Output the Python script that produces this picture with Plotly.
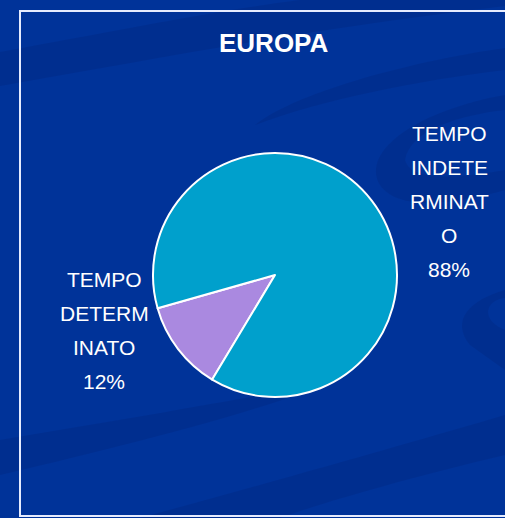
import plotly.graph_objects as go

W, H = 505, 518

labels = ["TEMPO DETERMINATO", "TEMPO INDETERMINATO"]
label_lines = [["TEMPO", "DETERM", "INATO"], ["TEMPO", "INDETE", "RMINAT", "O"]]
values = [12, 88]
colors = ["#AA89E0", "#00A0CC"]
title = "EUROPA"


def px(x, y):
    """ pixel position -> paper coords """
    return x / W, 1 - y / H


def path(points):
    """ pixel polyline/curves -> svg path in paper units """
    out = []
    for cmd, pts in points:
        coords = " ".join("%.4f,%.4f" % px(x, y) for x, y in pts)
        out.append(cmd + coords)
    return " ".join(out) + " Z"


fig = go.Figure(go.Pie(
    labels=labels,
    values=values,
    sort=False,
    direction="clockwise",
    rotation=211,
    marker=dict(colors=colors, line=dict(color="white", width=2)),
    textinfo="none",
    hoverinfo="label+percent",
    domain=dict(x=[153 / W, 397 / W], y=[1 - 397 / H, 1 - 153 / H]),
))

# background swooshes
dark = "rgba(0,30,110,0.22)"
swooshes = [
    [("M", [(0, 52)]), ("C", [(120, 30), (220, 10), (300, 0)]), ("L", [(505, 0)]),
     ("L", [(505, 6)]), ("C", [(300, 30), (150, 60), (0, 86)])],
    [("M", [(255, 125)]), ("C", [(300, 90), (420, 60), (505, 48)]), ("L", [(505, 70)]),
     ("C", [(420, 80), (320, 100), (255, 125)])],
    [("M", [(505, 95)]), ("C", [(420, 110), (360, 150), (380, 185)]),
     ("C", [(400, 215), (470, 200), (505, 190)]), ("L", [(505, 170)]),
     ("C", [(450, 180), (410, 180), (405, 160)]), ("C", [(410, 130), (460, 115), (505, 110)])],
    [("M", [(505, 290)]), ("C", [(470, 300), (450, 320), (470, 345)]),
     ("L", [(505, 370)]), ("L", [(505, 330)]), ("C", [(480, 320), (485, 300), (505, 298)])],
    [("M", [(0, 440)]), ("C", [(120, 420), (250, 398), (340, 380)]),
     ("C", [(260, 410), (150, 440), (0, 475)])],
    [("M", [(140, 518)]), ("C", [(280, 480), (420, 440), (505, 415)]), ("L", [(505, 455)]),
     ("C", [(420, 475), (330, 500), (280, 518)])],
]
shapes = [dict(type="path", xref="paper", yref="paper", path=path(s),
               fillcolor=dark, line=dict(width=0), layer="below")
          for s in swooshes]
shapes.append(dict(type="rect", xref="paper", yref="paper",
                   x0=20 / W, x1=1.02, y0=1 - 516 / H, y1=1 - 11 / H,
                   line=dict(color="#E6ECFF", width=2)))

# slice labels
pcts = [round(100 * v / sum(values)) for v in values]
label_pos = [(104, 279), (449, 133)]
annotations = []
for lines, pct, (cx, cy) in zip(label_lines, pcts, label_pos):
    for i, line in enumerate(lines + ["%d%%" % pct]):
        annotations.append(dict(
            x=cx / W, y=1 - (cy + i * 34) / H, xref="paper", yref="paper",
            text=line, showarrow=False, xanchor="center", yanchor="middle",
            font=dict(family="Liberation Sans, Arial", size=21, color="white")))

annotations.append(dict(
    x=274 / W, y=1 - 43 / H, xref="paper", yref="paper", text="<b>%s</b>" % title,
    showarrow=False, xanchor="center", yanchor="middle",
    font=dict(family="Liberation Sans, Arial", size=26, color="white")))

fig.update_layout(
    width=W, height=H,
    margin=dict(l=0, r=0, t=0, b=0),
    paper_bgcolor="#003399",
    plot_bgcolor="#003399",
    showlegend=False,
    shapes=shapes,
    annotations=annotations,
)

fig.write_html("out.html", config={"displayModeBar": False},
               post_script="document.body.style.margin='0';"
                           "document.body.style.overflow='hidden';")
